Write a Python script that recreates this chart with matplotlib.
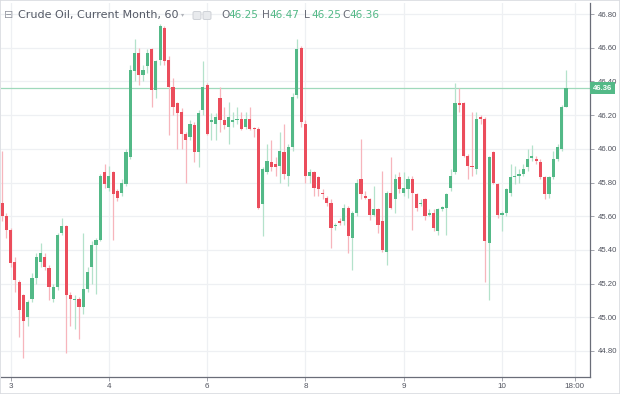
import numpy as np
import matplotlib
matplotlib.use("Agg")
import matplotlib.pyplot as plt
import matplotlib.transforms as mtransforms
from matplotlib.patches import FancyBboxPatch

# hourly bars, Crude Oil current month
opens = [
    45.68, 45.60, 45.52, 45.33, 45.21, 45.13, 45.00, 45.11, 45.23, 45.33,
    45.36, 45.29, 45.11, 45.18, 45.50, 45.54, 45.13, 45.10, 45.11, 45.06,
    45.17, 45.30, 45.43, 45.46, 45.86, 45.77, 45.86, 45.75, 45.74, 45.79,
    45.95, 46.46, 46.57, 46.44, 46.49, 46.59, 46.35, 46.53, 46.72, 46.53,
    46.37, 46.27, 46.22, 46.09, 46.07, 46.14, 45.98, 46.23, 46.38, 46.16,
    46.15, 46.30, 46.17, 46.13, 46.16, 46.17, 46.18, 46.13, 46.18, 46.125,
    46.12, 45.67, 45.86, 45.92, 45.91, 45.90, 45.98, 45.84, 46.01, 46.32,
    46.60, 46.15, 45.84, 45.86, 45.83, 45.74, 45.71, 45.68, 45.54, 45.57,
    45.57, 45.65, 45.47, 45.62, 45.82, 45.72, 45.70, 45.61, 45.64, 45.57,
    45.39, 45.74, 45.70, 45.83, 45.74, 45.76, 45.82, 45.73, 45.67, 45.70,
    45.61, 45.62, 45.51, 45.645, 45.65, 45.77, 45.86, 46.27, 46.27, 45.96,
    45.90, 45.88, 46.19, 46.18, 45.44, 45.98, 45.79, 45.61, 45.62, 45.74,
    45.83, 45.84, 45.85, 45.89, 45.948, 45.94, 45.92, 45.83, 45.73, 45.83,
    45.94, 46.00, 46.25,
]
highs = [
    45.99, 45.62, 45.53, 45.36, 45.22, 45.14, 45.10, 45.26, 45.38, 45.44,
    45.38, 45.31, 45.20, 45.50, 45.59, 45.55, 45.15, 45.13, 45.12, 45.50,
    45.30, 45.45, 45.47, 45.85, 45.91, 45.90, 45.87, 45.76, 45.82, 46.00,
    46.50, 46.65, 46.60, 46.50, 46.59, 46.60, 46.53, 46.74, 46.73, 46.55,
    46.42, 46.28, 46.24, 46.10, 46.17, 46.16, 46.23, 46.52, 46.39, 46.21,
    46.21, 46.37, 46.25, 46.28, 46.22, 46.25, 46.22, 46.22, 46.25, 46.13,
    46.13, 45.89, 46.03, 46.05, 45.95, 46.10, 46.15, 46.03, 46.33, 46.65,
    46.61, 46.17, 45.88, 45.87, 45.84, 45.76, 45.72, 45.70, 45.56, 45.59,
    45.67, 45.66, 45.63, 45.82, 46.06, 45.75, 45.71, 45.78, 45.65, 45.87,
    45.75, 45.95, 45.85, 45.86, 45.86, 45.84, 45.84, 45.74, 45.70, 45.71,
    45.64, 45.64, 45.65, 45.66, 45.74, 45.88, 46.39, 46.36, 46.28, 45.97,
    46.22, 46.22, 46.20, 46.19, 45.96, 45.99, 45.80, 45.63, 45.77, 45.91,
    45.90, 45.88, 45.91, 46.00, 46.02, 45.96, 45.94, 45.84, 45.84, 45.99,
    46.03, 46.26, 46.47,
]
lows = [
    45.57, 45.47, 45.30, 45.15, 44.88, 44.76, 44.95, 45.09, 45.20, 45.30,
    45.28, 45.10, 45.09, 45.16, 45.49, 44.79, 44.95, 44.93, 44.87, 45.02,
    45.15, 45.20, 45.14, 45.45, 45.77, 45.75, 45.46, 45.69, 45.72, 45.78,
    45.94, 46.40, 46.38, 46.40, 46.45, 46.25, 46.30, 46.50, 46.50, 46.08,
    46.20, 46.00, 46.00, 45.80, 46.05, 45.92, 45.89, 46.20, 46.08, 46.05,
    46.05, 46.10, 46.12, 46.03, 46.13, 46.15, 46.11, 46.12, 46.11, 46.07,
    45.64, 45.48, 45.85, 45.87, 45.84, 45.80, 45.82, 45.78, 45.99, 46.30,
    46.13, 45.80, 45.80, 45.72, 45.72, 45.70, 45.66, 45.41, 45.52, 45.55,
    45.55, 45.38, 45.28, 45.60, 45.70, 45.70, 45.58, 45.60, 45.50, 45.39,
    45.31, 45.64, 45.62, 45.74, 45.72, 45.71, 45.52, 45.63, 45.66, 45.58,
    45.60, 45.51, 45.49, 45.63, 45.49, 45.75, 45.85, 46.22, 45.95, 45.82,
    45.84, 45.85, 46.15, 45.21, 45.10, 45.79, 45.59, 45.51, 45.60, 45.72,
    45.79, 45.80, 45.84, 45.87, 45.93, 45.91, 45.82, 45.70, 45.71, 45.82,
    45.93, 45.99, 46.25,
]
closes = [
    45.60, 45.52, 45.32, 45.22, 45.04, 44.98, 45.09, 45.23, 45.36, 45.38,
    45.30, 45.18, 45.18, 45.49, 45.54, 45.13, 45.11, 45.11, 45.06, 45.17,
    45.27, 45.43, 45.46, 45.84, 45.79, 45.84, 45.73, 45.71, 45.80, 45.98,
    46.47, 46.57, 46.44, 46.47, 46.57, 46.35, 46.52, 46.73, 46.52, 46.37,
    46.25, 46.21, 46.09, 46.05, 46.15, 45.98, 46.21, 46.37, 46.09, 46.17,
    46.19, 46.17, 46.14, 46.19, 46.17, 46.18, 46.12, 46.18, 46.12, 46.115,
    45.65, 45.88, 45.93, 45.89, 45.89, 45.99, 45.85, 46.01, 46.31, 46.59,
    46.16, 45.84, 45.86, 45.77, 45.76, 45.73, 45.68, 45.53, 45.55, 45.56,
    45.65, 45.48, 45.62, 45.80, 45.73, 45.71, 45.61, 45.64, 45.55, 45.40,
    45.74, 45.65, 45.82, 45.76, 45.77, 45.82, 45.74, 45.65, 45.68, 45.60,
    45.62, 45.53, 45.64, 45.655, 45.73, 45.84, 46.27, 46.26, 45.96, 45.90,
    45.89, 46.18, 46.18, 45.45, 45.95, 45.80, 45.61, 45.62, 45.76, 45.83,
    45.84, 45.85, 45.88, 45.94, 45.955, 45.93, 45.83, 45.73, 45.83, 45.94,
    46.01, 46.25, 46.36,
]

day_ticks = [2, 25, 48, 71, 94, 117, 134]
day_labels = ["3", "4", "6", "8", "9", "10", "18:00"]
price_ticks = [44.80, 45.00, 45.20, 45.40, 45.60, 45.80, 46.00, 46.20, 46.40, 46.60, 46.80]
last_ohlc = {"O": "46.25", "H": "46.47", "L": "46.25", "C": "46.36"}
title = "Crude Oil, Current Month, 60"

UP = "#53b987"
DOWN = "#eb4d5c"
UP_WICK = "#b4e2cb"
DOWN_WICK = "#f7b5bc"
GRID = "#eef0f3"
TXT = "#50535e"
SCALE_FONT = "Liberation Sans"

o = np.array(opens)
h = np.array(highs)
l = np.array(lows)
c = np.array(closes)
x = np.arange(len(o))
up = c >= o

fig = plt.figure(figsize=(6.2, 3.94), dpi=100)
fig.patch.set_facecolor("white")
ax = fig.add_axes([1 / 620, 17 / 394, 589 / 620, 374 / 394])

for xv in day_ticks:
    ax.axvline(xv, color=GRID, lw=0.9, zorder=0)
for yv in price_ticks:
    ax.axhline(yv, color=GRID, lw=0.9, zorder=0)

ax.vlines(x[up], l[up], h[up], color=UP_WICK, lw=0.9, zorder=2)
ax.vlines(x[~up], l[~up], h[~up], color=DOWN_WICK, lw=0.9, zorder=2)
body = np.maximum(np.abs(c - o), 0.008)
bottom = np.minimum(o, c)
ax.bar(x[up], body[up], bottom=bottom[up], width=0.74, color=UP, lw=0, zorder=3)
ax.bar(x[~up], body[~up], bottom=bottom[~up], width=0.74, color=DOWN, lw=0, zorder=3)

# last price line
ax.axhline(c[-1], color="#9fd9bb", lw=0.9, zorder=1)

ax.set_xlim(-0.25, 137.6)
ax.set_ylim(44.645, 46.866)

ax.yaxis.tick_right()
ax.set_yticks(price_ticks)
ax.set_yticklabels([f"{v:.2f}" for v in price_ticks], fontfamily=SCALE_FONT)
ax.set_xticks(day_ticks)
ax.set_xticklabels(day_labels, fontfamily=SCALE_FONT)
ax.tick_params(axis="y", direction="out", length=3, width=0.6, color="#9598a1",
               labelsize=5.6, labelcolor=TXT, pad=2.5)
ax.tick_params(axis="x", direction="out", length=3, width=0.6, color="#9598a1",
               labelsize=5.8, labelcolor=TXT, pad=1.5)
for side in ["left", "top"]:
    ax.spines[side].set_visible(False)
for side in ["right", "bottom"]:
    ax.spines[side].set_color("#6a6d78")
    ax.spines[side].set_linewidth(0.9)

# price tag on the right scale
trans = mtransforms.blended_transform_factory(ax.transAxes, ax.transData)
ax.text(1.005, c[-1], f"{c[-1]:.2f}", transform=trans, ha="left", va="center",
        fontsize=5.6, family=SCALE_FONT, color="white", fontweight="bold",
        zorder=10, clip_on=False,
        bbox=dict(boxstyle="square,pad=0.35", fc=UP, ec="none"))

# legend line at the top
ytop = 1 - 15 / 394
fig.text(4 / 620, ytop, "\u229f", fontsize=8, color="#9598a1", va="center")
fig.text(18 / 620, ytop, title, fontsize=8.0, color="#555a66", va="center")
fig.text(181 / 620, ytop, "\u25be", fontsize=4.5, color="#b0b3ba", va="center")
for px in (193, 203):
    fig.patches.append(FancyBboxPatch((px / 620, 1 - 19.5 / 394), 8 / 620, 8 / 394,
                                      boxstyle="round,pad=0,rounding_size=0.003",
                                      fc="#e8eaed", ec="#c9ccd2", lw=0.6,
                                      transform=fig.transFigure))
xpos = {"O": 221, "H": 262, "L": 304, "C": 342}
for key, val in last_ohlc.items():
    fig.text(xpos[key] / 620, ytop, key, fontsize=7.6, color="#6a6d78", va="center")
    fig.text((xpos[key] + 7) / 620, ytop, val, fontsize=7.6, color=UP, va="center")

fig.patches.append(plt.Rectangle((0, 0), 1, 1, transform=fig.transFigure, fill=False,
                                 ec="#d9dbe0", lw=1.2))

fig.savefig("out.png", dpi=100, facecolor="white")
